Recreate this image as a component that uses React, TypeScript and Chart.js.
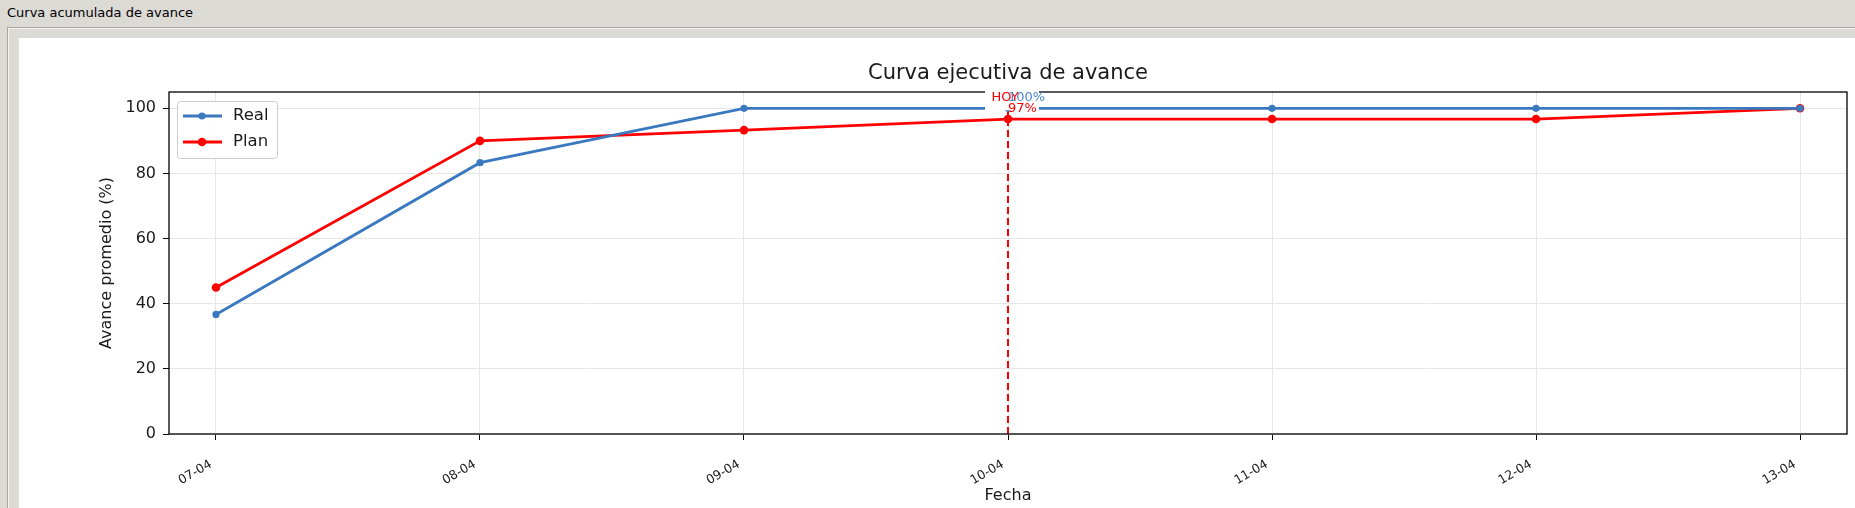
import { useEffect, useRef } from "react";
import { Chart, registerables } from "chart.js";

Chart.register(...registerables);

const fechas = ["07-04", "08-04", "09-04", "10-04", "11-04", "12-04", "13-04"];
const avanceReal = [36.7, 83.3, 100, 100, 100, 100, 100];
const avancePlan = [45, 90, 93.3, 96.7, 96.7, 96.7, 100];
const yTicks = [0, 20, 40, 60, 80, 100];
const hoyIndex = 3;
const hoyLabel = "HOY";
const chartTitle = "Curva ejecutiva de avance";

const realColor = "#3a79c0";
const planColor = "#ff0000";
const textColor = "#1a1a1a";
const gridColor = "#e6e6e6";
const FONT = "'DejaVu Sans', sans-serif";
const X_MARGIN = 0.178;

// HOY line, title, frame, annotations and legend drawn on top of the chart
const overlayPlugin = {
    id: "overlay",
    beforeDatasetsDraw(chart: any) {
        const { ctx, chartArea: a, scales } = chart;
        const x = scales.x.getPixelForValue(hoyIndex);
        ctx.save();
        ctx.strokeStyle = planColor;
        ctx.lineWidth = 2;
        ctx.setLineDash([7, 4]);
        ctx.beginPath();
        ctx.moveTo(x, a.bottom);
        ctx.lineTo(x, a.top);
        ctx.stroke();
        ctx.restore();
    },
    afterDatasetsDraw(chart: any) {
        const { ctx, chartArea: a, scales } = chart;
        ctx.save();

        // title centred over the axes, like matplotlib
        ctx.font = `21px ${FONT}`;
        ctx.fillStyle = textColor;
        ctx.textAlign = "center";
        ctx.textBaseline = "alphabetic";
        ctx.fillText(chartTitle, (a.left + a.right) / 2, a.top - 13.5);

        // axes frame
        ctx.strokeStyle = "#000";
        ctx.lineWidth = 1.3;
        ctx.strokeRect(a.left, a.top, a.right - a.left, a.bottom - a.top);

        const x = scales.x.getPixelForValue(hoyIndex);
        const yReal = scales.y.getPixelForValue(avanceReal[hoyIndex]);
        const yPlan = scales.y.getPixelForValue(avancePlan[hoyIndex]);

        ctx.fillStyle = "#fff";
        ctx.fillRect(x - 23, yReal - 21, 54, 23);

        ctx.font = `13px ${FONT}`;
        ctx.textBaseline = "alphabetic";
        ctx.textAlign = "center";
        ctx.fillStyle = planColor;
        ctx.fillText(hoyLabel, x - 3, yReal - 7);

        ctx.textAlign = "left";
        ctx.fillStyle = "#4a88cc";
        ctx.fillText(`${Math.round(avanceReal[hoyIndex])}%`, x, yReal - 7);
        ctx.fillStyle = planColor;
        ctx.fillText(`${Math.round(avancePlan[hoyIndex])}%`, x, yPlan - 7);

        // legend
        const bx = a.left + 8;
        const by = a.top + 9;
        ctx.beginPath();
        ctx.roundRect(bx + 0.5, by + 0.5, 100, 57, 3);
        ctx.fillStyle = "rgba(255,255,255,0.85)";
        ctx.fill();
        ctx.strokeStyle = "#cccccc";
        ctx.lineWidth = 1;
        ctx.stroke();

        const rows = [
            { label: "Real", color: realColor, r: 3.6 },
            { label: "Plan", color: planColor, r: 4.3 },
        ];
        rows.forEach((row, i) => {
            const y = by + 15 + i * 26;
            ctx.strokeStyle = row.color;
            ctx.lineWidth = 2.8;
            ctx.beginPath();
            ctx.moveTo(bx + 6, y);
            ctx.lineTo(bx + 45, y);
            ctx.stroke();
            ctx.fillStyle = row.color;
            ctx.beginPath();
            ctx.arc(bx + 25, y, row.r, 0, Math.PI * 2);
            ctx.fill();
            ctx.fillStyle = textColor;
            ctx.font = `16.5px ${FONT}`;
            ctx.textBaseline = "middle";
            ctx.fillText(row.label, bx + 56, y);
        });

        ctx.restore();
    },
};

const CurvaAvance = () => {
    const canvasRef = useRef<HTMLCanvasElement | null>(null);
    const chartRef = useRef<any>(null);

    useEffect(() => {
        if (!canvasRef.current) return;
        if (chartRef.current) chartRef.current.destroy();

        chartRef.current = new Chart(canvasRef.current, {
            type: "line",
            data: {
                datasets: [
                    {
                        label: "Real",
                        data: avanceReal.map((v, i) => ({ x: i, y: v })),
                        borderColor: realColor,
                        backgroundColor: realColor,
                        borderWidth: 2.8,
                        pointRadius: 3.6,
                        pointBorderWidth: 0,
                        tension: 0,
                    },
                    {
                        label: "Plan",
                        data: avancePlan.map((v, i) => ({ x: i, y: v })),
                        borderColor: planColor,
                        backgroundColor: planColor,
                        borderWidth: 2.8,
                        pointRadius: 4.3,
                        pointBorderWidth: 0,
                        tension: 0,
                    },
                ],
            },
            options: {
                animation: false,
                responsive: true,
                maintainAspectRatio: false,
                layout: { padding: { left: 0, right: 8, top: 54, bottom: 0 } },
                plugins: {
                    legend: { display: false },
                    tooltip: { enabled: false },
                    title: { display: false },
                },
                scales: {
                    x: {
                        type: "linear",
                        min: -X_MARGIN,
                        max: fechas.length - 1 + X_MARGIN,
                        afterBuildTicks: (s: any) => {
                            s.ticks = fechas.map((_, i) => ({ value: i }));
                        },
                        afterFit: (s: any) => {
                            s.height = 74;
                        },
                        ticks: {
                            callback: (v: any) => fechas[v],
                            autoSkip: false,
                            minRotation: 30,
                            maxRotation: 30,
                            color: textColor,
                            font: { family: FONT, size: 12.5 },
                            padding: 17,
                            labelOffset: -5,
                        },
                        grid: { color: gridColor, tickColor: "#000", tickLength: 6 },
                        border: { display: false },
                        title: {
                            display: true,
                            text: "Fecha",
                            color: textColor,
                            font: { family: FONT, size: 16 },
                            padding: { top: 0, bottom: 3 },
                        },
                    },
                    y: {
                        min: 0,
                        max: 105,
                        afterBuildTicks: (s: any) => {
                            s.ticks = yTicks.map((v) => ({ value: v }));
                        },
                        afterFit: (s: any) => {
                            s.width = 150;
                        },
                        ticks: {
                            color: textColor,
                            font: { family: FONT, size: 16 },
                            padding: 7,
                        },
                        grid: { color: gridColor, tickColor: "#000", tickLength: 6 },
                        border: { display: false },
                        title: {
                            display: true,
                            text: "Avance promedio (%)",
                            color: textColor,
                            font: { family: FONT, size: 16 },
                            padding: { top: 78, bottom: 0 },
                        },
                    },
                },
            },
            plugins: [overlayPlugin],
        } as any);

        return () => chartRef.current?.destroy();
    }, []);

    return <canvas ref={canvasRef} style={{ display: "block" }}></canvas>;
};

export default function App() {
    return (
        <div
            style={{
                position: "fixed",
                left: 0,
                top: 0,
                width: 1855,
                height: 508,
                background: "#dcdad5",
                overflow: "hidden",
                fontFamily: FONT,
            }}
        >
            <div
                style={{
                    position: "absolute",
                    left: 7,
                    top: 4.5,
                    fontSize: 13,
                    lineHeight: "16px",
                    color: "#000",
                }}
            >
                Curva acumulada de avance
            </div>
            <div
                style={{
                    position: "absolute",
                    left: 7,
                    top: 27,
                    width: 1870,
                    height: 500,
                    borderTop: "1px solid #a8a6a1",
                    borderLeft: "1px solid #a8a6a1",
                    boxShadow: "inset 1px 1px 0 #f4f3f1",
                }}
            />
            <div
                style={{
                    position: "absolute",
                    left: 19,
                    top: 38,
                    width: 1836,
                    height: 470,
                    background: "#fff",
                }}
            >
                <CurvaAvance />
            </div>
        </div>
    );
}
